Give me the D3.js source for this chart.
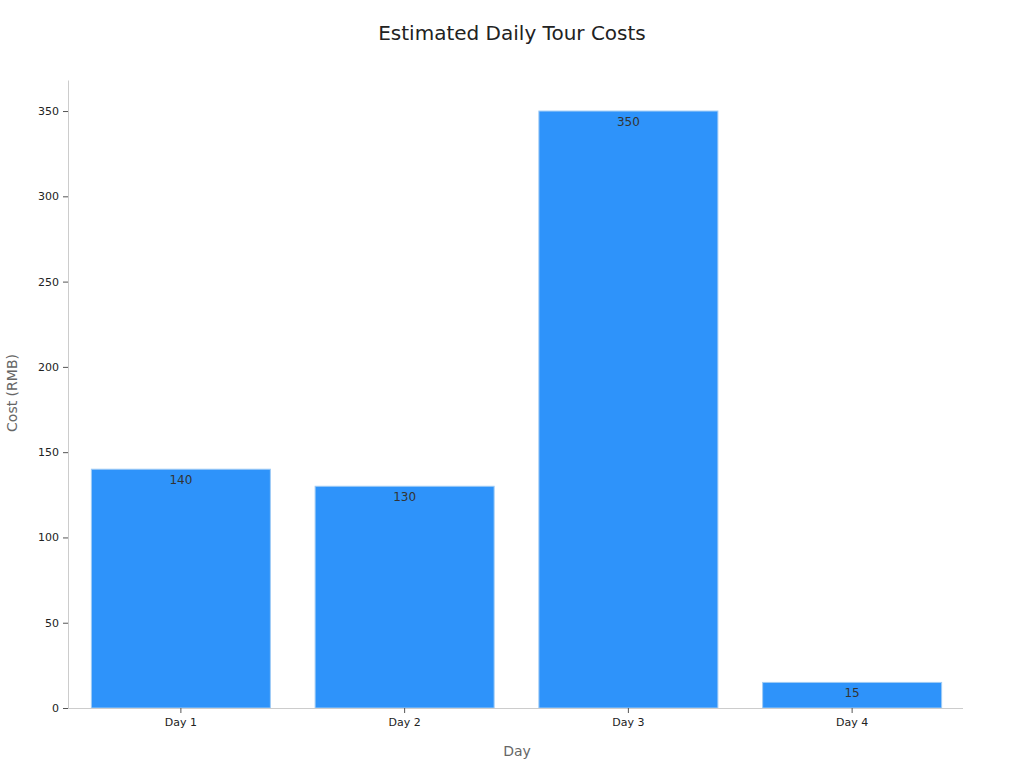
<!DOCTYPE html>
<html>
<head>
<meta charset="utf-8">
<script src="https://cdn.jsdelivr.net/npm/d3@7"></script>
<style>
  body { margin: 0; background: #fff; font-family: "DejaVu Sans", sans-serif; }
  .axis text { font-size: 11px; fill: #222; font-family: "DejaVu Sans", sans-serif; }
  .axis .tick line { stroke: #555; }
  .axis .domain { stroke: #ccc; }
</style>
</head>
<body>
<div id="chart"></div>
<script>
var days = ["Day 1", "Day 2", "Day 3", "Day 4"];
var costs = [140, 130, 350, 15];
var yTicks = [0, 50, 100, 150, 200, 250, 300, 350];

var width = 1024, height = 768;
var margin = {top: 80, right: 61, bottom: 60, left: 68};
var innerW = width - margin.left - margin.right,
    innerH = height - margin.top - margin.bottom;

var svg = d3.select("#chart").append("svg")
    .attr("width", width)
    .attr("height", height);

var g = svg.append("g")
    .attr("transform", "translate(" + margin.left + "," + margin.top + ")");

var x = d3.scaleBand()
    .domain(days)
    .range([1, innerW + 1])
    .paddingInner(0.2)
    .paddingOuter(0.1);

var y = d3.scaleLinear()
    .domain([0, 368.2])
    .range([innerH, 0]);

// bars
g.selectAll("rect.bar")
    .data(costs)
  .enter().append("rect")
    .attr("class", "bar")
    .attr("x", function(d, i) { return x(days[i]); })
    .attr("y", function(d) { return y(d); })
    .attr("width", x.bandwidth())
    .attr("height", function(d) { return innerH - y(d); })
    .attr("fill", "#2e93fa")
    .attr("stroke", "#9fcbf5")
    .attr("stroke-width", 1);

// value labels
g.selectAll("text.val")
    .data(costs)
  .enter().append("text")
    .attr("class", "val")
    .attr("x", function(d, i) { return x(days[i]) + x.bandwidth() / 2; })
    .attr("y", function(d) { return y(d) + 14.5; })
    .attr("text-anchor", "middle")
    .style("font-size", "12px")
    .style("fill", "#333")
    .text(function(d) { return d; });

var xAxis = g.append("g")
    .attr("class", "axis")
    .attr("transform", "translate(0," + innerH + ")")
    .call(d3.axisBottom(x).tickSize(5).tickSizeOuter(0).tickPadding(5));
xAxis.select(".domain").attr("d", "M0,0.5H" + innerW);

var yAxis = g.append("g")
    .attr("class", "axis")
    .call(d3.axisLeft(y).tickValues(yTicks).tickSize(5).tickSizeOuter(0).tickPadding(4));

// title
svg.append("text")
    .attr("x", width / 2)
    .attr("y", 40)
    .attr("text-anchor", "middle")
    .style("font-size", "20px")
    .style("fill", "#222")
    .text("Estimated Daily Tour Costs");

// axis labels
svg.append("text")
    .attr("x", 517)
    .attr("y", 756)
    .attr("text-anchor", "middle")
    .style("font-size", "14px")
    .style("fill", "#666")
    .text("Day");

svg.append("text")
    .attr("transform", "translate(17,393) rotate(-90)")
    .attr("text-anchor", "middle")
    .style("font-size", "14px")
    .style("fill", "#666")
    .text("Cost (RMB)");
</script>
</body>
</html>
